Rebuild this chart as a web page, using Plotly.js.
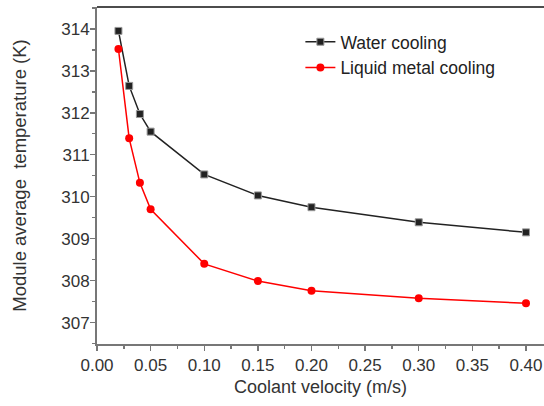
<!DOCTYPE html>
<html>
<head>
<meta charset="utf-8">
<script src="https://cdn.plot.ly/plotly-3.0.1.min.js"></script>
<style>html,body{margin:0;padding:0;background:#fff;}#chart{width:544px;height:406px;}</style>
</head>
<body>
<div id="chart"></div>
<script>
const velocity = [0.02, 0.03, 0.04, 0.05, 0.10, 0.15, 0.20, 0.30, 0.40];
const waterCooling = [313.95, 312.64, 311.97, 311.55, 310.53, 310.03, 309.75, 309.39, 309.15];
const liquidMetalCooling = [313.52, 311.39, 310.33, 309.70, 308.40, 307.99, 307.76, 307.58, 307.46];
const seriesNames = ["Water cooling", "Liquid metal cooling"];
const xTitle = "Coolant velocity (m/s)";
const yTitle = "Module average  temperature (K)";

const FONT = "Liberation Sans, Arial, sans-serif";
const traces = [
  {
    x: velocity, y: waterCooling, name: seriesNames[0], type: "scatter", mode: "lines+markers",
    line: {color: "#222", width: 1.5},
    marker: {symbol: "square", size: 7, color: "#222", line: {color: "#999", width: 1}}
  },
  {
    x: velocity, y: liquidMetalCooling, name: seriesNames[1], type: "scatter", mode: "lines+markers",
    line: {color: "#ff0000", width: 1.5},
    marker: {symbol: "circle", size: 8, color: "#ff0000", line: {color: "#ff2020", width: 0}}
  }
];
const axisCommon = {
  showgrid: false, zeroline: false, showline: true, linecolor: "#777", linewidth: 2,
  ticks: "outside", ticklen: 5, tickwidth: 1.5, tickcolor: "#777",
  tickfont: {family: FONT, size: 17, color: "#333"}
};
const layout = {
  width: 544, height: 406,
  margin: {l: 97, r: 0, t: 7, b: 62},
  paper_bgcolor: "#fff", plot_bgcolor: "#fff",
  showlegend: true,
  legend: {x: 0.455, y: 0.95, xanchor: "left", yanchor: "top", bgcolor: "rgba(0,0,0,0)",
           font: {family: FONT, size: 17.5, color: "#222"}, borderwidth: 0},
  xaxis: Object.assign({}, axisCommon, {
    range: [0, 0.4168], tick0: 0, dtick: 0.05, tickformat: ".2f",
    minor: {dtick: 0.025, tick0: 0, ticks: "outside", ticklen: 3, tickcolor: "#777", tickwidth: 1.5},
    title: {text: xTitle, font: {family: FONT, size: 18, color: "#333"}, standoff: 6}
  }),
  yaxis: Object.assign({}, axisCommon, {
    range: [306.49, 314.52], tick0: 0, dtick: 1, ticklabelstandoff: -3,
    minor: {dtick: 0.5, tick0: 0, ticks: "outside", ticklen: 3, tickcolor: "#777", tickwidth: 1.5},
    title: {text: yTitle, font: {family: FONT, size: 18.5, color: "#333"}, standoff: 30}
  }),
  shapes: [{type: "line", xref: "paper", yref: "paper", x0: 0, x1: 1, y0: 1, y1: 1,
            line: {color: "#111", width: 1.5}}]
};
Plotly.newPlot("chart", traces, layout, {displayModeBar: false, staticPlot: true});
</script>
</body>
</html>
